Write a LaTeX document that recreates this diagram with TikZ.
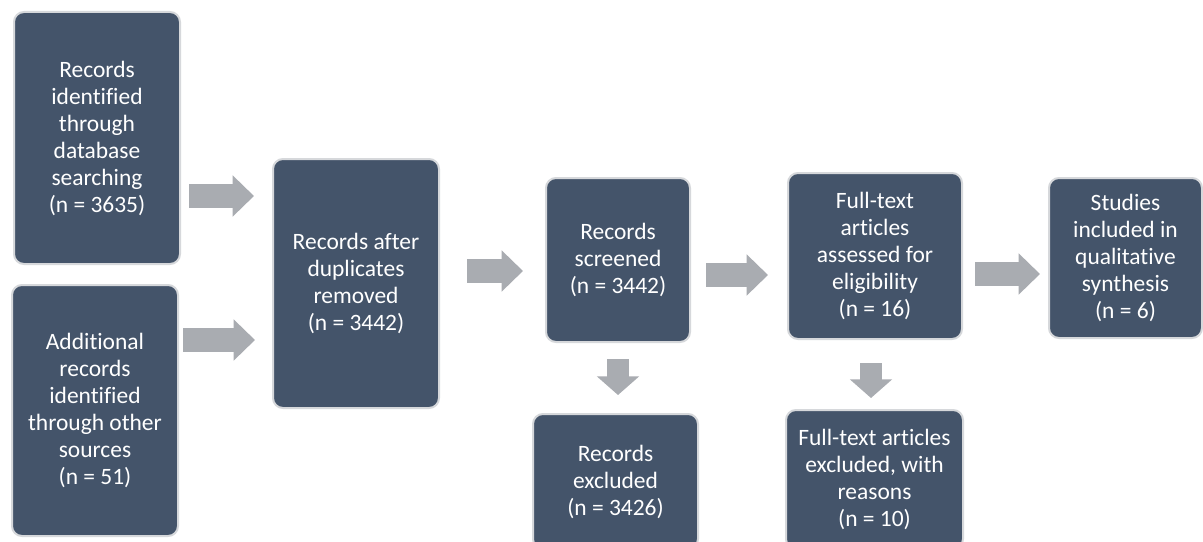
\documentclass[tikz,border=0pt]{standalone}
\usepackage{fontspec}
\setmainfont{Carlito}[RawFeature={-liga;-clig;-calt;-dlig}]
\usetikzlibrary{arrows.meta}
\definecolor{boxfill}{HTML}{44546A}
\definecolor{arrowgray}{HTML}{A9ACB1}
\definecolor{halo}{HTML}{D6D8DB}
\tikzset{
  stage/.style={draw=halo, line width=1.5pt, fill=boxfill, rounded corners=7.5pt,
    inner sep=0pt, align=center, text=white,
    font=\fontsize{17.6pt}{20.25pt}\selectfont},
  blkh/.style={draw=arrowgray, line width=17.5pt, line cap=butt,
    -{Triangle[width=30pt,length=16pt]}},
  blkv/.style={draw=arrowgray, line width=16pt, line cap=butt,
    -{Triangle[width=31pt,length=14pt]}}
}
\begin{document}
\begin{tikzpicture}[x=0.75pt,y=-0.75pt]
\useasboundingbox (0,0) rectangle (1203,542);
\clip (0,0) rectangle (1203,542);
\fill[white] (0,0) rectangle (1203,542);

\node[stage, minimum width=124.5pt, minimum height=189pt] (A) at (97,138)
  {Records\\identified\\through\\database\\searching\\(n = 3635)};
\node[stage, minimum width=124.5pt, minimum height=188.25pt] (B) at (95,410.5)
  {Additional\\records\\identified\\through other\\sources\\(n = 51)};
\node[stage, minimum width=124.5pt, minimum height=186.75pt] (C) at (356,283.5)
  {Records after\\duplicates\\removed\\(n = 3442)};
\node[stage, minimum width=108pt, minimum height=123pt] (D) at (618,260)
  {Records\\screened\\(n = 3442)};
\node[stage, minimum width=130.5pt, minimum height=124.5pt] (E) at (875,256)
  {Full-text\\articles\\assessed for\\eligibility\\(n = 16)};
\node[stage, minimum width=114.75pt, minimum height=120pt] (F) at (1125.5,258)
  {Studies\\included in\\qualitative\\synthesis\\(n = 6)};
\node[stage, minimum width=123.75pt, minimum height=101.25pt] (G) at (615.5,481.5)
  {Records\\excluded\\(n = 3426)};
\node[stage, minimum width=132.75pt, minimum height=104.25pt] (H) at (874.5,479.5)
  {Full-text articles\\excluded, with\\reasons\\(n = 10)};

\coordinate (a1s) at (189,196);  \coordinate (a1e) at (254,196);
\coordinate (a2s) at (183,340);  \coordinate (a2e) at (255,340);
\coordinate (a3s) at (467,271);  \coordinate (a3e) at (523,271);
\coordinate (a4s) at (706,275);  \coordinate (a4e) at (768,275);
\coordinate (a5s) at (975,274);  \coordinate (a5e) at (1040,274);
\coordinate (d1s) at (618,359);  \coordinate (d1e) at (618,395);
\coordinate (d2s) at (871,363);  \coordinate (d2e) at (871,398);

\draw[blkh] (a1s) -- (a1e);
\draw[blkh] (a2s) -- (a2e);
\draw[blkh] (a3s) -- (a3e);
\draw[blkh] (a4s) -- (a4e);
\draw[blkh] (a5s) -- (a5e);
\draw[blkv] (d1s) -- (d1e);
\draw[blkv] (d2s) -- (d2e);
\end{tikzpicture}
\end{document}
